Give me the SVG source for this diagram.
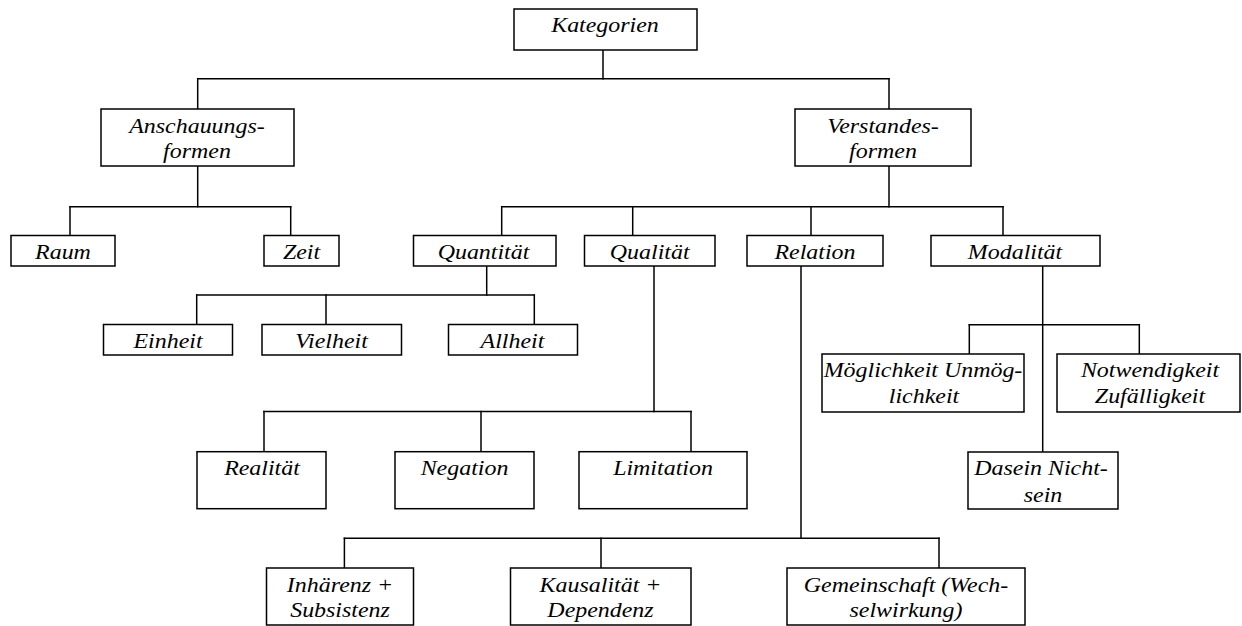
<svg xmlns="http://www.w3.org/2000/svg" width="1242" height="626" viewBox="0 0 1242 626">
<style>
rect{fill:#fff;stroke:#000;stroke-width:1.5}
.c line{stroke:#000;stroke-width:1.5;stroke-linecap:square}
text{font-family:"Liberation Serif","Times New Roman",serif;font-style:italic;font-size:21px;fill:#000;text-anchor:middle}
</style>
<rect x="0" y="0" width="1242" height="626" style="stroke:none"/>
<g class="c" id="connectors">
<line x1="603" y1="50" x2="603" y2="78.7"/>
<line x1="197.7" y1="78.7" x2="889" y2="78.7"/>
<line x1="197.7" y1="78.7" x2="197.7" y2="109"/>
<line x1="889" y1="78.7" x2="889" y2="109"/>
<line x1="197.7" y1="166" x2="197.7" y2="206.7"/>
<line x1="70" y1="206.7" x2="290.7" y2="206.7"/>
<line x1="70" y1="206.7" x2="70" y2="235.5"/>
<line x1="290.7" y1="206.7" x2="290.7" y2="235.5"/>
<line x1="889" y1="166" x2="889" y2="206.7"/>
<line x1="501.7" y1="206.7" x2="1003" y2="206.7"/>
<line x1="501.7" y1="206.7" x2="501.7" y2="235.5"/>
<line x1="632.7" y1="206.7" x2="632.7" y2="235.5"/>
<line x1="811" y1="206.7" x2="811" y2="235.5"/>
<line x1="1003" y1="206.7" x2="1003" y2="235.5"/>
<line x1="486.7" y1="266" x2="486.7" y2="295"/>
<line x1="196.7" y1="295" x2="534.3" y2="295"/>
<line x1="196.7" y1="295" x2="196.7" y2="324.5"/>
<line x1="326" y1="295" x2="326" y2="324.5"/>
<line x1="534.3" y1="295" x2="534.3" y2="324.5"/>
<line x1="654" y1="266" x2="654" y2="411.5"/>
<line x1="264" y1="411.5" x2="691" y2="411.5"/>
<line x1="264" y1="411.5" x2="264" y2="451.7"/>
<line x1="481" y1="411.5" x2="481" y2="451.7"/>
<line x1="691" y1="411.5" x2="691" y2="451.7"/>
<line x1="801" y1="266" x2="801" y2="538.3"/>
<line x1="344.4" y1="538.3" x2="939" y2="538.3"/>
<line x1="344.4" y1="538.3" x2="344.4" y2="568"/>
<line x1="601" y1="538.3" x2="601" y2="568"/>
<line x1="939" y1="538.3" x2="939" y2="568"/>
<line x1="1042.7" y1="266" x2="1042.7" y2="452"/>
<line x1="969.3" y1="324.7" x2="1139.3" y2="324.7"/>
<line x1="969.3" y1="324.7" x2="969.3" y2="354"/>
<line x1="1139.3" y1="324.7" x2="1139.3" y2="354"/>
</g>
<g id="kategorien"><rect x="514" y="9" width="183" height="41"/><text transform="translate(605,32) scale(1.14,1)">Kategorien</text></g>
<g id="anschauungsformen"><rect x="101" y="109" width="193" height="57"/><text transform="translate(197,132.5) scale(1.14,1)">Anschauungs-</text><text transform="translate(197,158) scale(1.14,1)">formen</text></g>
<g id="verstandesformen"><rect x="795" y="109" width="176" height="57"/><text transform="translate(883,132.5) scale(1.14,1)">Verstandes-</text><text transform="translate(883,158) scale(1.14,1)">formen</text></g>
<g id="raum"><rect x="11" y="235.5" width="104" height="30.5"/><text transform="translate(63,259) scale(1.14,1)">Raum</text></g>
<g id="zeit"><rect x="264" y="235.5" width="75" height="30.5"/><text transform="translate(301.5,259) scale(1.14,1)">Zeit</text></g>
<g id="quantitaet"><rect x="413.5" y="235.5" width="142.5" height="30.5"/><text transform="translate(483.5,259) scale(1.14,1)">Quantität</text></g>
<g id="qualitaet"><rect x="584.5" y="235.5" width="130.5" height="30.5"/><text transform="translate(649.7,259) scale(1.14,1)">Qualität</text></g>
<g id="relation"><rect x="747" y="235.5" width="136" height="30.5"/><text transform="translate(815,259) scale(1.14,1)">Relation</text></g>
<g id="modalitaet"><rect x="931" y="235.5" width="169" height="30.5"/><text transform="translate(1015,259) scale(1.14,1)">Modalität</text></g>
<g id="einheit"><rect x="103.5" y="324.5" width="129" height="30.5"/><text transform="translate(168,348) scale(1.14,1)">Einheit</text></g>
<g id="vielheit"><rect x="262" y="324.5" width="139.5" height="30.5"/><text transform="translate(331.5,348) scale(1.14,1)">Vielheit</text></g>
<g id="allheit"><rect x="448.5" y="324.5" width="129" height="30.5"/><text transform="translate(512.5,348) scale(1.14,1)">Allheit</text></g>
<g id="moeglichkeit"><rect x="822" y="354" width="202" height="58"/><text transform="translate(923,377) scale(1.14,1)">Möglichkeit Unmög-</text><text transform="translate(924,403) scale(1.14,1)">lichkeit</text></g>
<g id="notwendigkeit"><rect x="1057" y="354" width="183" height="58"/><text transform="translate(1150,377) scale(1.14,1)">Notwendigkeit</text><text transform="translate(1150,403) scale(1.14,1)">Zufälligkeit</text></g>
<g id="realitaet"><rect x="197" y="451.7" width="129" height="57"/><text transform="translate(262,475) scale(1.14,1)">Realität</text></g>
<g id="negation"><rect x="395" y="451.7" width="139" height="57"/><text transform="translate(464.5,475) scale(1.14,1)">Negation</text></g>
<g id="limitation"><rect x="579" y="451.7" width="168" height="57"/><text transform="translate(663,475) scale(1.14,1)">Limitation</text></g>
<g id="dasein"><rect x="968" y="452" width="150" height="57"/><text transform="translate(1041,475) scale(1.14,1)">Dasein Nicht-</text><text transform="translate(1043,501.5) scale(1.14,1)">sein</text></g>
<g id="inhaerenz"><rect x="266.5" y="568" width="147" height="57"/><text transform="translate(340,591.5) scale(1.14,1)">Inhärenz +</text><text transform="translate(340,617) scale(1.14,1)">Subsistenz</text></g>
<g id="kausalitaet"><rect x="510.5" y="568" width="180.5" height="57"/><text transform="translate(600.5,591.5) scale(1.14,1)">Kausalität +</text><text transform="translate(600.5,617) scale(1.14,1)">Dependenz</text></g>
<g id="gemeinschaft"><rect x="787" y="568" width="238" height="57"/><text transform="translate(906,591.5) scale(1.14,1)">Gemeinschaft (Wech-</text><text transform="translate(906,617) scale(1.14,1)">selwirkung)</text></g>
</svg>
